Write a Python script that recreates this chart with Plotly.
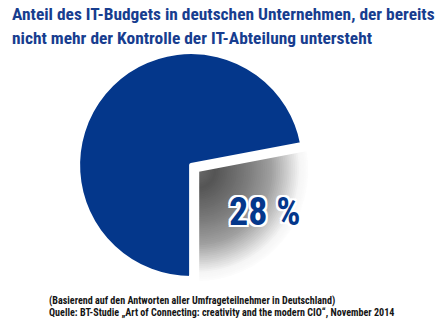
import plotly.graph_objects as go

# Data
labels = ["Außerhalb der IT-Abteilung", "IT-Abteilung"]
values = [28, 72]
share_label = f"{values[0]} %"

title_lines = [
    "Anteil des IT-Budgets in deutschen Unternehmen, der bereits",
    "nicht mehr der Kontrolle der IT-Abteilung untersteht",
]
footnote_lines = [
    "(Basierend auf den Antworten aller Umfrageteilnehmer in Deutschland)",
    "Quelle: BT-Studie \u201eArt of Connecting: creativity and the modern CIO\u201c, November 2014",
]

BLUE = "#04378b"
TITLE_BLUE = "#173d8f"
CLEAR = "rgba(0,0,0,0)"
FONT = "Roboto Condensed, DejaVu Sans Condensed, sans-serif"

domain = dict(x=[0.157, 0.700], y=[0.112, 0.863])
pull = [0.07, 0]
rotation = 90 - (values[0] / 100 * 360 - 90)

common = dict(
    labels=labels,
    values=values,
    sort=False,
    direction="clockwise",
    rotation=rotation,
    pull=pull,
    domain=domain,
    textinfo="none",
    hoverinfo="skip",
    showlegend=False,
)

fig = go.Figure()

# blue share
fig.add_trace(go.Pie(marker=dict(colors=[CLEAR, BLUE], line=dict(width=0)), **common))

# shaded share: stacked rings, grey near the tip fading to white at the rim
stops = [(0.0, 105), (0.15, 85), (0.45, 125), (0.65, 160), (0.8, 210), (0.9, 245), (1.0, 255)]


def grey_at(t):
    for (t0, g0), (t1, g1) in zip(stops, stops[1:]):
        if t <= t1:
            return g0 + (g1 - g0) * (t - t0) / (t1 - t0)
    return stops[-1][1]


n_rings = 60
for i in range(n_rings):
    t = i / n_rings
    g = int(round(grey_at(t)))
    fig.add_trace(go.Pie(
        hole=t,
        marker=dict(colors=[f"rgb({g},{g},{g})", CLEAR], line=dict(width=0)),
        **common,
    ))

# white separators around both shares
fig.add_trace(go.Pie(
    marker=dict(colors=[CLEAR, CLEAR], line=dict(color="white", width=4)),
    **common,
))

outline = ", ".join(
    f"{dx}px {dy}px 0 white"
    for dx, dy in [(2, 0), (-2, 0), (0, 2), (0, -2), (2, 2), (-2, -2), (2, -2), (-2, 2)]
)

annotations = [
    dict(text=title_lines[0], x=10 / 446, y=1 - 14 / 322, xanchor="left", yanchor="middle",
         font=dict(family=FONT, size=17.4, color=TITLE_BLUE, weight="bold")),
    dict(text=title_lines[1], x=10 / 446, y=1 - 38 / 322, xanchor="left", yanchor="middle",
         font=dict(family=FONT, size=17.4, color=TITLE_BLUE, weight="bold")),
    dict(text=share_label, x=264 / 446, y=1 - 212 / 322, xanchor="center", yanchor="middle",
         font=dict(family=FONT, size=38, color=BLUE, weight="bold", shadow=outline)),
    dict(text=footnote_lines[0], x=47 / 446, y=1 - 301 / 322, xanchor="left", yanchor="middle",
         font=dict(family=FONT, size=10.1, color="#151515", weight="bold")),
    dict(text=footnote_lines[1], x=47 / 446, y=1 - 313 / 322, xanchor="left", yanchor="middle",
         font=dict(family=FONT, size=10.1, color="#151515", weight="bold")),
]
for a in annotations:
    a.update(xref="paper", yref="paper", showarrow=False)

fig.update_layout(
    width=446,
    height=322,
    margin=dict(l=0, r=0, t=0, b=0),
    paper_bgcolor="white",
    plot_bgcolor="white",
    annotations=annotations,
)

fig.write_html("out.html")
